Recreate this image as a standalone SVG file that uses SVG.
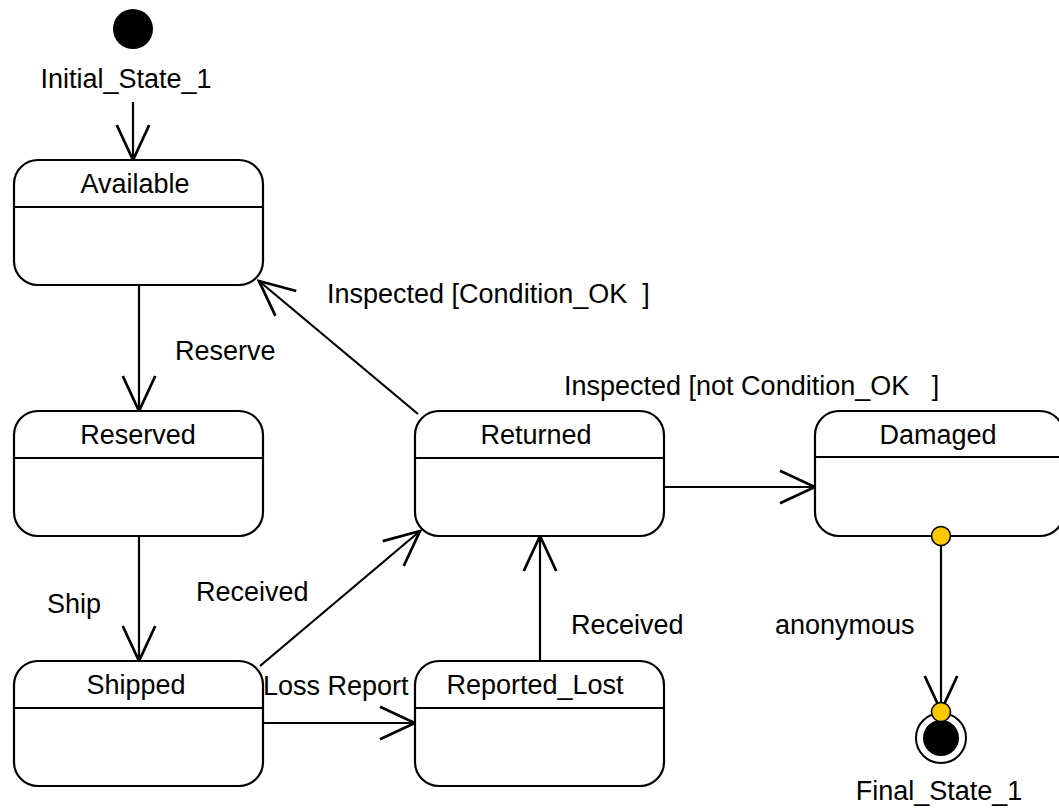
<svg xmlns="http://www.w3.org/2000/svg" width="1059" height="808" viewBox="0 0 1059 808">
<style>
text{font-family:"Liberation Sans",Arial,sans-serif;font-size:27px;fill:#000;white-space:pre}
.n{text-anchor:middle}
.box{fill:#fff;stroke:#000;stroke-width:2.2}
.div{stroke:#000;stroke-width:2.2}
.c{fill:none;stroke:#000;stroke-width:2.2}
.dot{fill:#FFC800;stroke:#000;stroke-width:1.6}
</style>
<defs>
<marker id="a" markerUnits="userSpaceOnUse" markerWidth="40" markerHeight="40" viewBox="-30 -15 32 30" refX="0" refY="0" orient="auto">
<path d="M-28,-13 L0,0 L-28,13" fill="none" stroke="#000" stroke-width="2.2"/>
</marker>
</defs>
<rect width="1059" height="808" fill="#fff"/>
<g id="connectors">
<line class="c" x1="133" y1="102" x2="133" y2="160" marker-end="url(#a)"/>
<line class="c" x1="139" y1="285" x2="139" y2="411" marker-end="url(#a)"/>
<line class="c" x1="139" y1="536" x2="139" y2="661" marker-end="url(#a)"/>
<line class="c" x1="260" y1="666" x2="420" y2="531" marker-end="url(#a)"/>
<line class="c" x1="263" y1="723" x2="415" y2="723" marker-end="url(#a)"/>
<line class="c" x1="540" y1="661" x2="540" y2="536" marker-end="url(#a)"/>
<line class="c" x1="418" y1="414" x2="259" y2="281" marker-end="url(#a)"/>
<line class="c" x1="664" y1="487" x2="815" y2="487" marker-end="url(#a)"/>
<line class="c" x1="941" y1="536" x2="941" y2="711" marker-end="url(#a)"/>
<text x="175" y="360">Reserve</text>
<text x="47" y="613">Ship</text>
<text x="196" y="601">Received</text>
<text x="263" y="695">Loss Report</text>
<text x="571" y="634">Received</text>
<text x="327" y="303" xml:space="preserve">Inspected [Condition_OK  ]</text>
<text x="564" y="395" xml:space="preserve">Inspected [not Condition_OK   ]</text>
<text x="775" y="634">anonymous</text>
</g>
<g id="initial">
<circle cx="133" cy="29" r="20" fill="#000"/>
<text class="n" x="126" y="88">Initial_State_1</text>
</g>
<g id="available">
<rect class="box" x="14" y="160" width="249" height="125" rx="24"/>
<line class="div" x1="14" y1="207" x2="263" y2="207"/>
<text class="n" x="135" y="193">Available</text>
</g>
<g id="reserved">
<rect class="box" x="14" y="411" width="249" height="125" rx="24"/>
<line class="div" x1="14" y1="458" x2="263" y2="458"/>
<text class="n" x="138" y="444">Reserved</text>
</g>
<g id="shipped">
<rect class="box" x="14" y="661" width="249" height="125" rx="24"/>
<line class="div" x1="14" y1="708" x2="263" y2="708"/>
<text class="n" x="136" y="694">Shipped</text>
</g>
<g id="returned">
<rect class="box" x="415" y="411" width="249" height="125" rx="24"/>
<line class="div" x1="415" y1="458" x2="664" y2="458"/>
<text class="n" x="536" y="444">Returned</text>
</g>
<g id="reported_lost">
<rect class="box" x="415" y="661" width="249" height="125" rx="24"/>
<line class="div" x1="415" y1="708" x2="664" y2="708"/>
<text class="n" x="535" y="694">Reported_Lost</text>
</g>
<g id="damaged">
<rect class="box" x="815" y="411" width="249" height="125" rx="24"/>
<line class="div" x1="815" y1="457" x2="1064" y2="457"/>
<text class="n" x="938" y="444">Damaged</text>
<circle class="dot" cx="941" cy="536" r="9.5"/>
</g>
<g id="final">
<circle cx="941" cy="738" r="25" fill="#fff" stroke="#000" stroke-width="2"/>
<circle cx="941" cy="738" r="18" fill="#000"/>
<circle class="dot" cx="941" cy="712" r="9.5"/>
<text class="n" x="939" y="800">Final_State_1</text>
</g>
</svg>
